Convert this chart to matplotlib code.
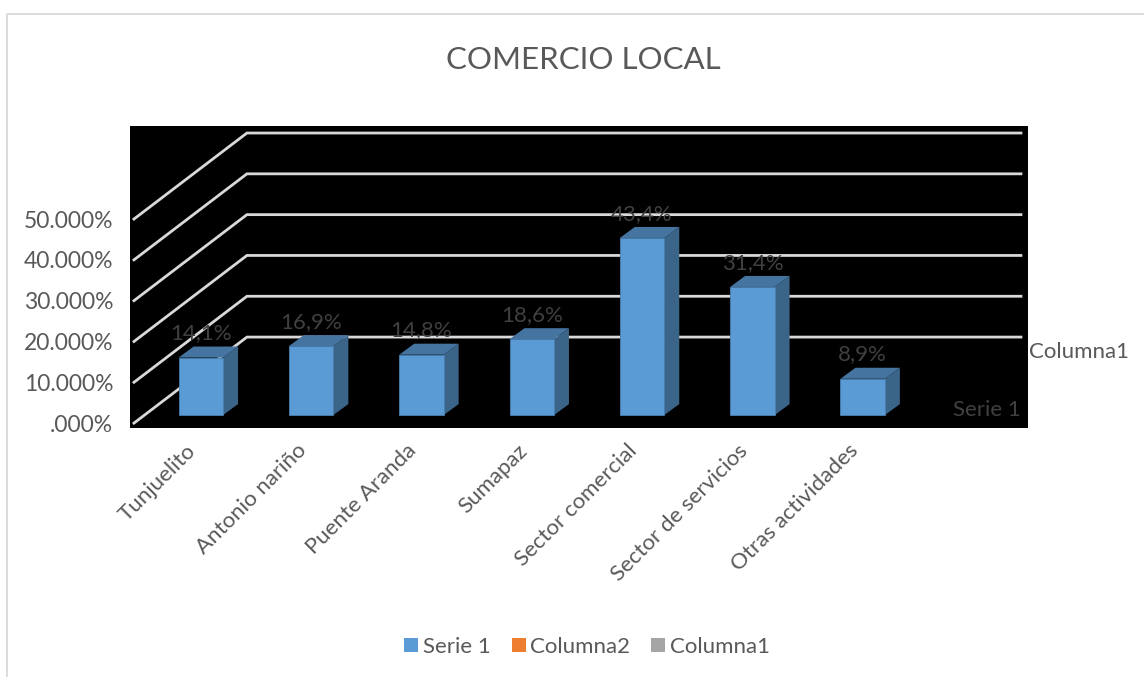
import matplotlib
matplotlib.use("Agg")
import matplotlib.pyplot as plt
from matplotlib.patches import Patch, Polygon, Rectangle
from matplotlib.transforms import ScaledTranslation

categories = ["Tunjuelito", "Antonio nariño", "Puente Aranda", "Sumapaz",
              "Sector comercial", "Sector de servicios", "Otras actividades"]
serie1 = [14.1, 16.9, 14.8, 18.6, 43.4, 31.4, 8.9]
y_ticks = [0, 10, 20, 30, 40, 50]
y_tick_labels = [".000%", "10.000%", "20.000%", "30.000%", "40.000%", "50.000%"]
legend_names = ["Serie 1", "Columna2", "Columna1"]
legend_colors = ["#5b9bd5", "#ed7d31", "#a5a5a5"]

W, H = 1144, 677
plt.rcParams["font.family"] = ["Lato", "DejaVu Sans"]

fig = plt.figure(figsize=(W / 100, H / 100), dpi=100)

# chart border, only top and left are inside the canvas
border = fig.add_axes([0, 0, 1, 1], zorder=0)
border.set_xlim(0, W)
border.set_ylim(H, 0)
border.axis("off")
border.plot([7, 7, W], [H, 14, 14], color="#d9d9d9", lw=1.3)

# plot area, black wall
ax = fig.add_axes([130 / W, 1 - 428 / H, 898 / W, 302 / H], zorder=1)
ax.set_facecolor("black")
ax.set_xlim(-0.642, 7.499)
ax.set_ylim(-1.2, 72.8)
for s in ax.spines.values():
    s.set_visible(False)

# fake 3d: floor lines go back to the wall, then across
x_front, x_back, x_right = -0.606, 0.418, 7.435
rise = 21.08
for v in y_ticks:
    ax.plot([x_front, x_back, x_right], [v, v + rise, v + rise],
            color="#d9d9d9", lw=2, zorder=1, solid_joinstyle="miter")

bar_w = 0.403
base = 1.96
dx, dy = 0.136, 2.7
for i, v in enumerate(serie1):
    l = i - bar_w / 2
    r = i + bar_w / 2
    top = base + v
    ax.add_patch(Polygon([(r, base), (r + dx, base + dy), (r + dx, top + dy), (r, top)],
                         fc="#3b6489", ec="none", zorder=3))
    ax.add_patch(Polygon([(l, top), (l + dx, top + dy), (r + dx, top + dy), (r, top)],
                         fc="#44749f", ec="none", zorder=3))
    ax.add_patch(Rectangle((l, base), bar_w, v, fc="#5b9bd5", ec="#4a80b0", lw=0.6, zorder=4))
    ax.annotate(f"{v:.1f}%".replace(".", ","), (i, top), xytext=(0, 17.5),
                textcoords="offset points", ha="center", va="center",
                color="#404040", fontsize=16, zorder=5)

ax.set_yticks(y_ticks)
ax.set_yticklabels(y_tick_labels, color="#595959", fontsize=16.5)
ax.tick_params(axis="y", length=0, pad=12)
ax.set_xticks(range(len(categories)))
ax.set_xticklabels(categories, rotation=45, ha="right", rotation_mode="anchor",
                   color="#595959", fontsize=16)
ax.tick_params(axis="x", length=0, pad=9)

# category labels sit a little left of their bars
for lab in ax.get_xticklabels():
    lab.set_transform(lab.get_transform() + ScaledTranslation(-15 / 100, 0, fig.dpi_scale_trans))

ax.text(7.435, 3.2, "Serie 1", ha="right", va="center", color="#404040", fontsize=16)
ax.text(1029 / W, 1 - 352 / H, "Columna1", transform=fig.transFigure, ha="left", va="center",
        color="#595959", fontsize=16)

fig.text(583 / W, 1 - 60 / H, "COMERCIO LOCAL", ha="center", va="center",
         color="#595959", fontsize=22.5)

handles = [Patch(fc=c, ec="none") for c in legend_colors]
fig.legend(handles, legend_names, loc="center", bbox_to_anchor=(587 / W, 1 - 647 / H),
           ncol=3, frameon=False, fontsize=16, labelcolor="#595959",
           handlelength=0.63, handleheight=0.63, handletextpad=0.2, columnspacing=0.95)

fig.savefig("out.png", dpi=100)
